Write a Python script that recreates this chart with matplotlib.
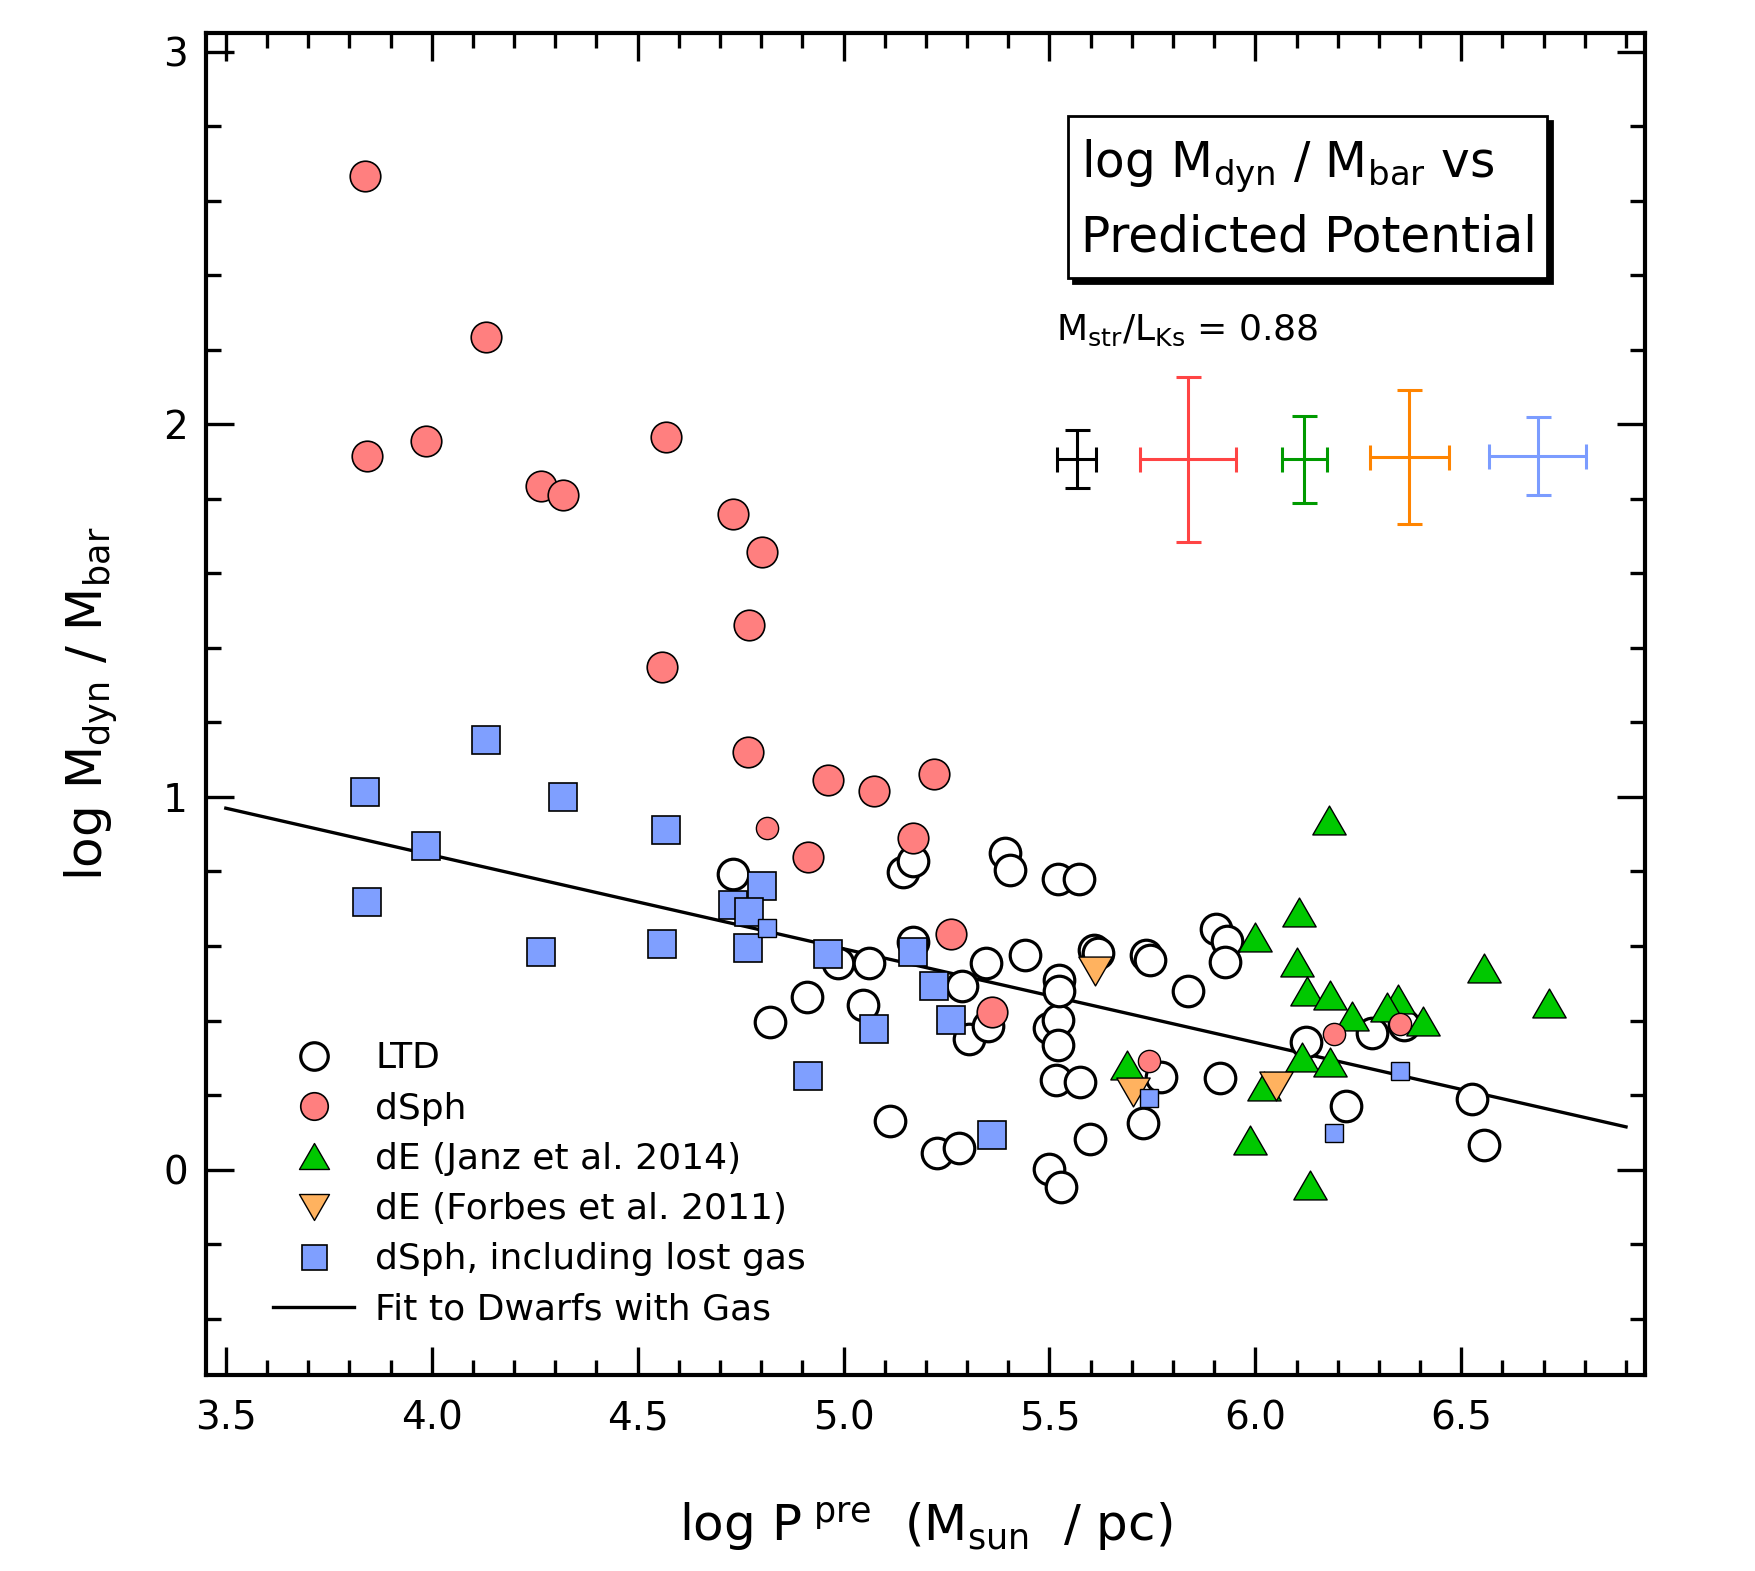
import numpy as np
import matplotlib
matplotlib.use("Agg")
import matplotlib.pyplot as plt
from matplotlib.path import Path
from matplotlib.patches import Rectangle
from matplotlib.ticker import MultipleLocator, FormatStrFormatter
import matplotlib.transforms as mtransforms

plt.rcParams['font.family'] = ['DejaVu Sans']
plt.rcParams['mathtext.default'] = 'regular'

# late-type dwarfs (open circles)
ltd_x = [4.732, 4.822, 4.911, 4.987, 5.063, 5.047, 5.114, 5.144, 5.169, 5.169,
         5.226, 5.280, 5.288, 5.305, 5.345, 5.351, 5.392, 5.403, 5.441, 5.498,
         5.520, 5.520, 5.522, 5.522, 5.520, 5.571, 5.517, 5.574, 5.498, 5.528,
         5.599, 5.607, 5.618, 5.735, 5.743, 5.770, 5.726, 5.837, 5.905, 5.932,
         5.927, 5.913, 6.122, 6.283, 6.361, 6.220, 6.527, 6.554]
ltd_y = [0.793, 0.396, 0.462, 0.555, 0.555, 0.441, 0.131, 0.799, 0.829, 0.610,
         0.044, 0.059, 0.492, 0.351, 0.555, 0.384, 0.850, 0.805, 0.577, 0.381,
         0.402, 0.333, 0.510, 0.480, 0.781, 0.781, 0.240, 0.234, 0.002, -0.046,
         0.083, 0.589, 0.580, 0.577, 0.562, 0.249, 0.125, 0.480, 0.646, 0.613,
         0.556, 0.246, 0.342, 0.366, 0.387, 0.171, 0.189, 0.066]

# dSph: stars only (red) and including lost gas (blue), same x
dsph_x = [3.839, 3.844, 3.985, 4.132, 4.266, 4.319, 4.569, 4.558, 4.732, 4.802,
          4.771, 4.767, 4.963, 5.074, 5.220, 5.169, 4.914, 5.262, 5.360]
dsph_y = [2.666, 1.916, 1.956, 2.235, 1.834, 1.810, 1.965, 1.348, 1.758, 1.658,
          1.460, 1.121, 1.045, 1.017, 1.062, 0.891, 0.838, 0.631, 0.424]
gas_y = [1.012, 0.717, 0.868, 1.153, 0.583, 1.000, 0.911, 0.605, 0.711, 0.762,
         0.692, 0.595, 0.579, 0.378, 0.492, 0.584, 0.251, 0.401, 0.094]

# fainter dSph, drawn with smaller symbols
dsph_small_x = [4.815, 5.742, 6.190, 6.352]
dsph_small_y = [0.917, 0.291, 0.364, 0.392]
gas_small_y = [0.648, 0.192, 0.099, 0.264]

# dE, Janz et al. 2014
janz_x = [6.178, 6.106, 6.000, 6.101, 6.556, 6.126, 6.180, 6.347, 6.319, 6.714,
          6.234, 6.408, 6.114, 6.180, 5.688, 6.022, 5.986, 6.133]
janz_y = [0.938, 0.690, 0.624, 0.557, 0.540, 0.480, 0.468, 0.459, 0.437, 0.446,
          0.413, 0.399, 0.301, 0.289, 0.280, 0.223, 0.079, -0.042]

# dE, Forbes et al. 2011
forbes_x = [5.610, 5.702, 6.049]
forbes_y = [0.533, 0.208, 0.225]

# fit to dwarfs with gas
fit_range = [3.5, 6.9]
fit_a, fit_b = 1.850, -0.2515

# typical error bars: black, red, green, orange, blue
err_x = [5.566, 5.837, 6.119, 6.374, 6.686]
err_y = [1.906, 1.906, 1.906, 1.913, 1.915]
err_dx = [0.048, 0.117, 0.055, 0.096, 0.118]
err_dy = [0.078, 0.222, 0.117, 0.180, 0.104]
err_col = ['black', '#ff4444', '#009a00', '#ff8400', '#7b9cff']

tri_up = Path([(0, 0.866), (-1, -0.866), (1, -0.866), (0, 0.866)],
              [Path.MOVETO, Path.LINETO, Path.LINETO, Path.CLOSEPOLY])
tri_dn = Path([(0, -0.866), (-1, 0.866), (1, 0.866), (0, -0.866)],
              [Path.MOVETO, Path.LINETO, Path.LINETO, Path.CLOSEPOLY])

fig = plt.figure(figsize=(17.55, 15.71), dpi=100)
ax = fig.add_axes([0.1174, 0.1248, 0.8199, 0.8540])

fx = np.array(fit_range)
ax.plot(fx, fit_a + fit_b * fx, color='black', lw=2.4, zorder=2,
        label='Fit to Dwarfs with Gas')

ax.plot(ltd_x, ltd_y, 'o', ms=22, mfc='white', mec='black', mew=2.3,
        zorder=3, label='LTD')
ax.plot(janz_x, janz_y, ls='none', marker=tri_up, ms=24, mfc='#00c800',
        mec='black', mew=1.0, zorder=4, label='dE (Janz et al. 2014)')
ax.plot(forbes_x, forbes_y, ls='none', marker=tri_dn, ms=24, mfc='#ffb25f',
        mec='black', mew=1.0, zorder=5, label='dE (Forbes et al. 2011)')
ax.plot(dsph_x, dsph_y, 'o', ms=22, mfc='#ff7f7f', mec='black', mew=1.2,
        zorder=6, label='dSph')
ax.plot(dsph_small_x, dsph_small_y, 'o', ms=16, mfc='#ff7f7f', mec='black',
        mew=1.0, zorder=6)
ax.plot(dsph_x, gas_y, 's', ms=20, mfc='#7f9fff', mec='black', mew=1.2,
        zorder=7, label='dSph, including lost gas')
ax.plot(dsph_small_x, gas_small_y, 's', ms=13.5, mfc='#7f9fff', mec='black',
        mew=1.0, zorder=7)

for x, y, dx, dy, c in zip(err_x, err_y, err_dx, err_dy, err_col):
    ax.errorbar(x, y, xerr=dx, yerr=dy, fmt='none', ecolor=c, elinewidth=2.2,
                capsize=9, capthick=2.2, zorder=8)

ax.set_xlim(3.452, 6.946)
ax.set_ylim(-0.551, 3.049)

ax.xaxis.set_major_locator(MultipleLocator(0.5))
ax.xaxis.set_minor_locator(MultipleLocator(0.1))
ax.yaxis.set_major_locator(MultipleLocator(1))
ax.yaxis.set_minor_locator(MultipleLocator(0.2))
ax.xaxis.set_major_formatter(FormatStrFormatter('%.1f'))
ax.yaxis.set_major_formatter(FormatStrFormatter('%d'))

ax.tick_params(which='both', direction='in', top=True, right=True, width=2.4)
ax.tick_params(which='major', length=20)
ax.tick_params(which='minor', length=10.8)
ax.tick_params(axis='x', which='major', labelsize=28, pad=18)
ax.tick_params(axis='y', which='major', labelsize=28, pad=13)
for sp in ax.spines.values():
    sp.set_linewidth(3.0)

ax.set_xlabel(r'log P$^{\ \mathrm{pre}}$  (M$_{\mathrm{sun}}$  / pc)', fontsize=36)
ax.xaxis.set_label_coords(0.5, -0.094)
ax.set_ylabel(r'log M$_{\mathrm{dyn}}$ / M$_{\mathrm{bar}}$', fontsize=36)
ax.yaxis.set_label_coords(-0.060, 0.5)

# title box with drop shadow
shadow_tr = mtransforms.offset_copy(ax.transAxes, fig=fig, x=5, y=-5, units='dots')
ax.add_patch(Rectangle((0.5993, 0.8174), 0.3324, 0.1210, transform=shadow_tr,
                       facecolor='black', edgecolor='black', lw=2.0, zorder=9))
ax.add_patch(Rectangle((0.5993, 0.8174), 0.3324, 0.1210, transform=ax.transAxes,
                       facecolor='white', edgecolor='black', lw=2.0, zorder=10))
ax.text(0.608, 0.892, r'log M$_{\mathrm{dyn}}$ / M$_{\mathrm{bar}}$ vs',
        transform=ax.transAxes, fontsize=35, va='baseline', ha='left', zorder=11)
ax.text(0.608, 0.837, 'Predicted Potential', transform=ax.transAxes,
        fontsize=35, va='baseline', ha='left', zorder=11)
ax.text(0.5905, 0.7714, r'M$_{\mathrm{str}}$/L$_{\mathrm{Ks}}$ = 0.88',
        transform=ax.transAxes, fontsize=26, va='baseline', ha='left', zorder=11)

handles, labels = ax.get_legend_handles_labels()
order = ['LTD', 'dSph', 'dE (Janz et al. 2014)', 'dE (Forbes et al. 2011)',
         'dSph, including lost gas', 'Fit to Dwarfs with Gas']
hmap = dict(zip(labels, handles))
ax.legend([hmap[k] for k in order], order, loc='lower left',
          bbox_to_anchor=(0.0468, 0.036), frameon=False, fontsize=26,
          markerscale=0.9, handlelength=2.24, handletextpad=0.58,
          labelspacing=0.45, borderpad=0, borderaxespad=0)

fig.savefig('out.png', dpi=100)
